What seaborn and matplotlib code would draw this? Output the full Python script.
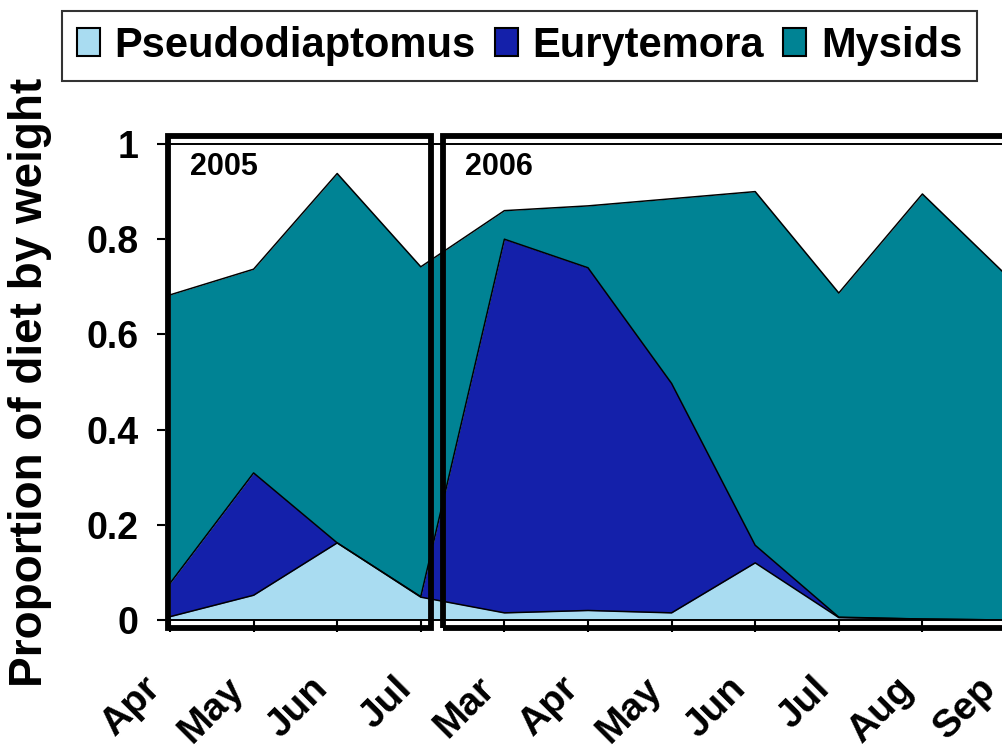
import numpy as np
import pandas as pd
import matplotlib
matplotlib.use("Agg")
import matplotlib.pyplot as plt
import matplotlib.patches as mpatches
import matplotlib.transforms as mtransforms
import seaborn as sns

# Monthly diet composition (proportion of diet by weight), 2005 and 2006
months = ["Apr", "May", "Jun", "Jul", "Mar", "Apr", "May", "Jun", "Jul", "Aug", "Sep"]
pseudodiaptomus = [0.007, 0.052, 0.162, 0.048, 0.015, 0.020, 0.015, 0.120, 0.005, 0.002, 0.000]
eurytemora = [0.070, 0.257, 0.000, 0.001, 0.785, 0.720, 0.482, 0.037, 0.001, 0.000, 0.000]
mysids = [0.606, 0.428, 0.776, 0.693, 0.060, 0.130, 0.388, 0.743, 0.681, 0.893, 0.725]
series_names = ["Pseudodiaptomus", "Eurytemora", "Mysids"]
series_colors = ["#a9dcf1", "#1420aa", "#008394"]
year_labels = ["2005", "2006"]

df = pd.DataFrame({
    "idx": np.arange(len(months)),
    "month": months,
    "Pseudodiaptomus": pseudodiaptomus,
    "Eurytemora": eurytemora,
    "Mysids": mysids,
})

sns.set_theme(style="white")
plt.rcParams["font.family"] = ["Liberation Sans", "DejaVu Sans"]
plt.rcParams["font.weight"] = "bold"
for key in ["text.color", "axes.labelcolor", "xtick.color", "ytick.color"]:
    plt.rcParams[key] = "black"

W, H = 1002, 756
fig = plt.figure(figsize=(W / 100, H / 100), dpi=100)

# axes geometry in pixels
step = 83.6
x0_px = 170.0
left_px, bottom_px, top_px = 165.0, 620.0, 144.0
xmin = (left_px - x0_px) / step
xmax = 10.5
right_px = x0_px + xmax * step
ax = fig.add_axes([left_px / W, 1 - bottom_px / H,
                   (right_px - left_px) / W, (bottom_px - top_px) / H])

# stacked areas
lower = np.zeros(len(df))
for name, color in zip(series_names, series_colors):
    upper = lower + df[name].to_numpy()
    ax.fill_between(df["idx"], lower, upper, color=color, linewidth=0, zorder=2)
    lower = upper

# outlines of each stacked boundary
cum = df[series_names].cumsum(axis=1)
for name in series_names:
    sns.lineplot(x=df["idx"], y=cum[name], color="black", linewidth=1.1,
                 ax=ax, zorder=3, legend=False)

ax.set_xlim(xmin, xmax)
ax.set_ylim(0, 1)
ax.set_xlabel("")
ax.set_ylabel("")

for side in ["left", "right"]:
    ax.spines[side].set_visible(False)
for side in ["top", "bottom"]:
    ax.spines[side].set_color("black")
    ax.spines[side].set_linewidth(1.4)

ax.set_yticks([0, 0.2, 0.4, 0.6, 0.8, 1.0])
ax.set_yticklabels(["0", "0.2", "0.4", "0.6", "0.8", "1"], fontsize=27, fontweight="bold")
ax.set_xticks(df["idx"])
ax.set_xticklabels(months, fontsize=28, fontweight="bold", rotation=45,
                   ha="right", va="center", rotation_mode="anchor")
ax.tick_params(axis="y", which="both", left=True, length=6, width=1.5,
               color="black", pad=13, direction="out")
ax.tick_params(axis="x", which="both", bottom=True, length=8.6, width=1.5,
               color="black", pad=37, direction="out")
shift = mtransforms.ScaledTranslation(-15 / 100, 0, fig.dpi_scale_trans)
for lab in ax.get_xticklabels():
    lab.set_transform(lab.get_transform() + shift)

# year boxes (double-frame look: thick outer rectangle around the thin spines)
def px_to_x(px):
    return (px - x0_px) / step

def py_to_y(py):
    return (bottom_px - py) / (bottom_px - top_px)

box_top, box_bot = py_to_y(136), py_to_y(627.5)
boxes = [(px_to_x(168), px_to_x(430.5)), (px_to_x(443), px_to_x(1200))]
for (bx0, bx1), label in zip(boxes, year_labels):
    rect = mpatches.Rectangle((bx0, box_bot), bx1 - bx0, box_top - box_bot,
                              fill=False, edgecolor="black", linewidth=4.2,
                              clip_on=False, zorder=5, joinstyle="miter")
    ax.add_patch(rect)
    ax.text(bx0 + px_to_x(190) - px_to_x(168), py_to_y(152), label,
            fontsize=22, fontweight="bold", ha="left", va="top", zorder=6)

# y-axis title
fig.text(30 / W, 1 - 382 / H, "Proportion of diet by weight", rotation=90,
         ha="center", va="center", fontsize=33, fontweight="bold")

# legend
handles = [mpatches.Patch(facecolor=c, edgecolor="black", linewidth=1.5, label=n)
           for n, c in zip(series_names, series_colors)]
leg = fig.legend(handles=handles, loc="center", ncol=3,
                 bbox_to_anchor=(519.5 / W, 1 - 46 / H),
                 fontsize=30, frameon=True, fancybox=False, shadow=False,
                 handlelength=0.55, handleheight=0.65, handletextpad=0.36,
                 columnspacing=0.45, borderpad=0.35, borderaxespad=0)
leg.get_frame().set_edgecolor("black")
leg.get_frame().set_linewidth(1.5)
for t in leg.get_texts():
    t.set_fontweight("bold")
    t.set_color("black")

fig.savefig("out.png", dpi=100, facecolor="white")
